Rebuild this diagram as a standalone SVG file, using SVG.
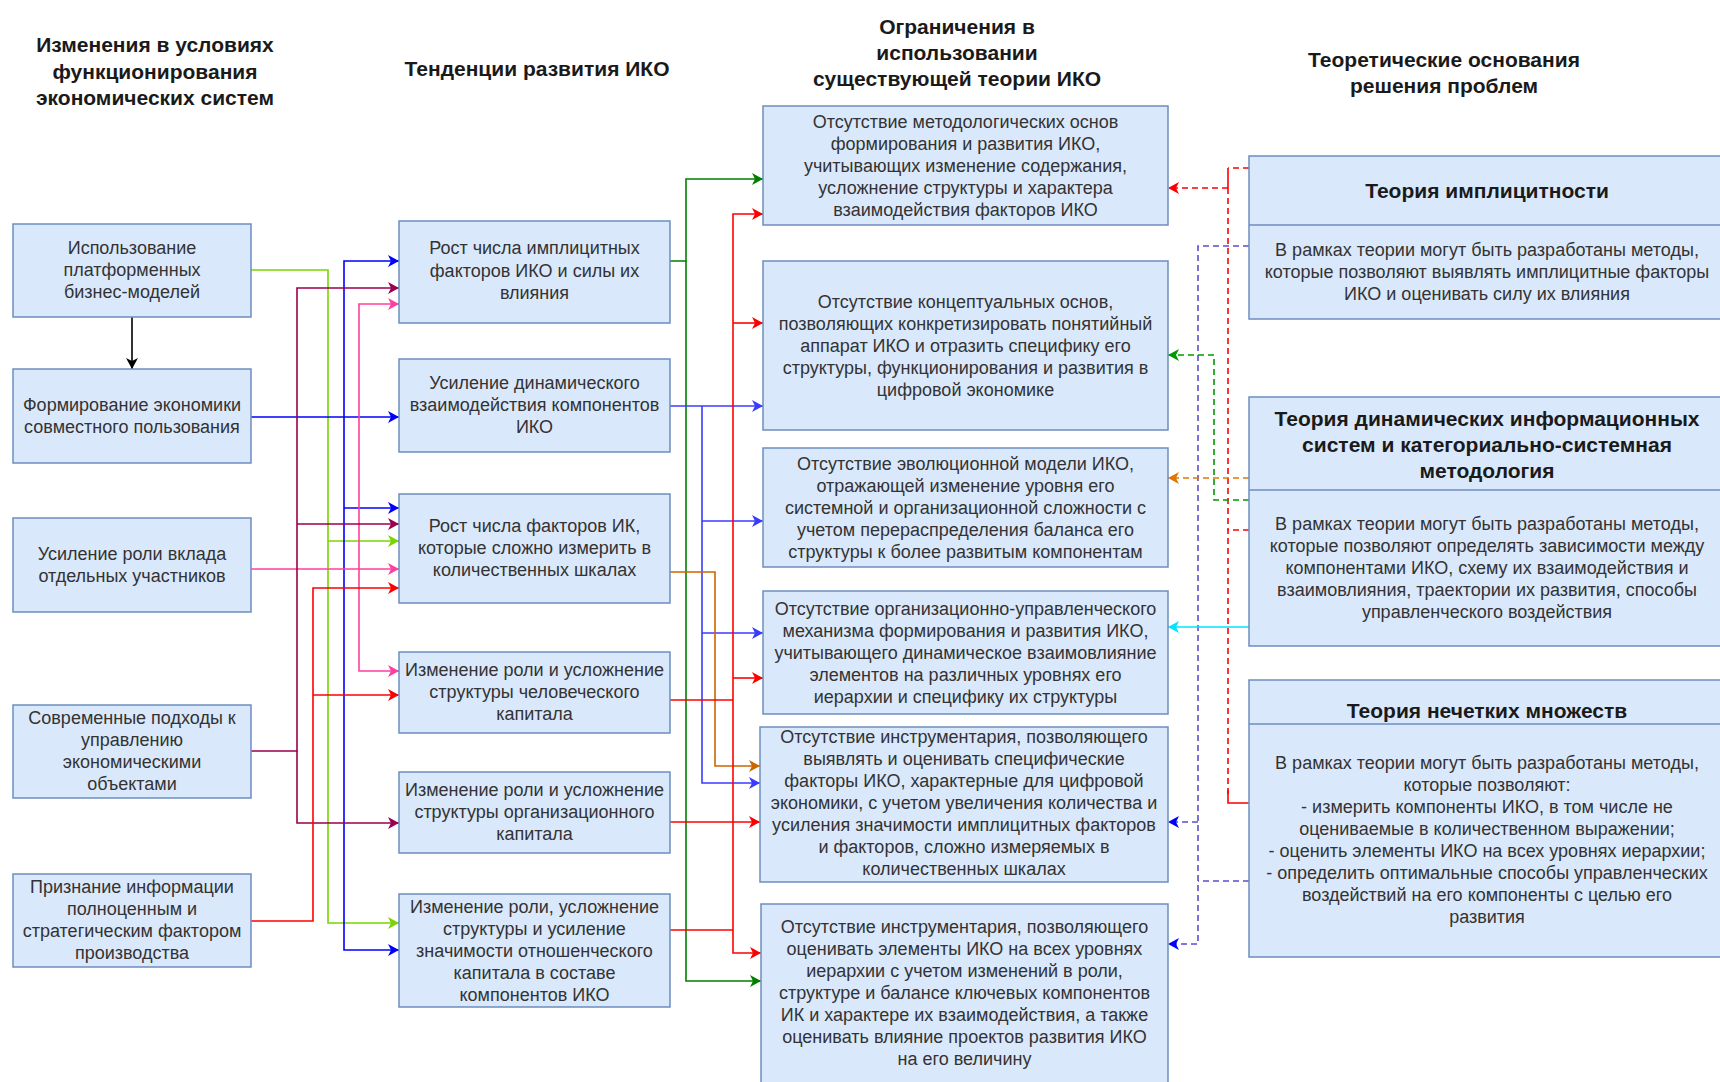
<svg xmlns="http://www.w3.org/2000/svg" width="1720" height="1082" viewBox="0 0 1720 1082">
  <style>
    .bg { fill: #ffffff; }
    .box { fill: #dae8fc; stroke: #6c8ebf; stroke-width: 1.5; }
    .div { stroke: #6c8ebf; stroke-width: 1.5; fill: none; }
    .t { font-family: "Liberation Sans", Arial, sans-serif; font-size: 18px; fill: #333333; text-anchor: middle; }
    .h { font-family: "Liberation Sans", Arial, sans-serif; font-size: 21px; font-weight: bold; fill: #1a1a1a; text-anchor: middle; }
    .c { fill: none; stroke-width: 1.6; }
    .dash { stroke-dasharray: 6 4; }
    .k { stroke: #000000; }
    .lg { stroke: #7ad400; }
    .bl { stroke: #0000ff; }
    .pu { stroke: #99004d; }
    .pk { stroke: #ff3f9f; }
    .rd { stroke: #ff0000; }
    .dg { stroke: #008000; }
    .b2 { stroke: #3b3bff; }
    .or { stroke: #cc6600; }
    .cy { stroke: #00e5ff; }
    .vd { stroke: #5a4fcf; }
    .gd { stroke: #009900; }
    .od { stroke: #e07800; }
  </style>
  <defs>
    <marker id="a-k" markerUnits="userSpaceOnUse" markerWidth="12" markerHeight="12" refX="11" refY="6" orient="auto"><path d="M0,0 L11,6 L0,12 L3,6 z" fill="#000000"/></marker>
    <marker id="a-lg" markerUnits="userSpaceOnUse" markerWidth="12" markerHeight="12" refX="11" refY="6" orient="auto"><path d="M0,0 L11,6 L0,12 L3,6 z" fill="#7ad400"/></marker>
    <marker id="a-bl" markerUnits="userSpaceOnUse" markerWidth="12" markerHeight="12" refX="11" refY="6" orient="auto"><path d="M0,0 L11,6 L0,12 L3,6 z" fill="#0000ff"/></marker>
    <marker id="a-pu" markerUnits="userSpaceOnUse" markerWidth="12" markerHeight="12" refX="11" refY="6" orient="auto"><path d="M0,0 L11,6 L0,12 L3,6 z" fill="#99004d"/></marker>
    <marker id="a-pk" markerUnits="userSpaceOnUse" markerWidth="12" markerHeight="12" refX="11" refY="6" orient="auto"><path d="M0,0 L11,6 L0,12 L3,6 z" fill="#ff3f9f"/></marker>
    <marker id="a-rd" markerUnits="userSpaceOnUse" markerWidth="12" markerHeight="12" refX="11" refY="6" orient="auto"><path d="M0,0 L11,6 L0,12 L3,6 z" fill="#ff0000"/></marker>
    <marker id="a-dg" markerUnits="userSpaceOnUse" markerWidth="12" markerHeight="12" refX="11" refY="6" orient="auto"><path d="M0,0 L11,6 L0,12 L3,6 z" fill="#008000"/></marker>
    <marker id="a-b2" markerUnits="userSpaceOnUse" markerWidth="12" markerHeight="12" refX="11" refY="6" orient="auto"><path d="M0,0 L11,6 L0,12 L3,6 z" fill="#3b3bff"/></marker>
    <marker id="a-or" markerUnits="userSpaceOnUse" markerWidth="12" markerHeight="12" refX="11" refY="6" orient="auto"><path d="M0,0 L11,6 L0,12 L3,6 z" fill="#cc6600"/></marker>
    <marker id="a-cy" markerUnits="userSpaceOnUse" markerWidth="12" markerHeight="12" refX="11" refY="6" orient="auto"><path d="M0,0 L11,6 L0,12 L3,6 z" fill="#00e5ff"/></marker>
    <marker id="a-gd" markerUnits="userSpaceOnUse" markerWidth="12" markerHeight="12" refX="11" refY="6" orient="auto"><path d="M0,0 L11,6 L0,12 L3,6 z" fill="#009900"/></marker>
    <marker id="a-od" markerUnits="userSpaceOnUse" markerWidth="12" markerHeight="12" refX="11" refY="6" orient="auto"><path d="M0,0 L11,6 L0,12 L3,6 z" fill="#e07800"/></marker>
  </defs>

  <rect class="bg" x="0" y="0" width="1720" height="1082"/>

  <!-- Column titles -->
  <g id="titles">
    <text class="h"><tspan x="155" y="52">Изменения в условиях</tspan><tspan x="155" y="79">функционирования</tspan><tspan x="155" y="105">экономических систем</tspan></text>
    <text class="h" x="537" y="76">Тенденции развития ИКО</text>
    <text class="h"><tspan x="957" y="34">Ограничения в</tspan><tspan x="957" y="60">использовании</tspan><tspan x="957" y="86">существующей теории ИКО</tspan></text>
    <text class="h"><tspan x="1444" y="67">Теоретические основания</tspan><tspan x="1444" y="93">решения проблем</tspan></text>
  </g>

  <!-- Connectors -->
  <g id="connectors">
    <!-- platform models -> sharing economy -->
    <path class="c k" d="M132,317 V369" marker-end="url(#a-k)"/>

    <!-- platform business models -->
    <path class="c lg" d="M251,270 H328 V923 H399" marker-end="url(#a-lg)"/>
    <path class="c lg" d="M328,541 H399" marker-end="url(#a-lg)"/>

    <!-- sharing economy -->
    <path class="c bl" d="M251,417 H399" marker-end="url(#a-bl)"/>
    <path class="c bl" d="M344,417 V261 H399" marker-end="url(#a-bl)"/>
    <path class="c bl" d="M344,417 V950 H399" marker-end="url(#a-bl)"/>
    <path class="c bl" d="M344,508 H399" marker-end="url(#a-bl)"/>

    <!-- contribution of individual participants -->
    <path class="c pk" d="M251,569 H399" marker-end="url(#a-pk)"/>
    <path class="c pk" d="M359,569 V304 H399" marker-end="url(#a-pk)"/>
    <path class="c pk" d="M359,569 V671 H399" marker-end="url(#a-pk)"/>

    <!-- modern management approaches -->
    <path class="c pu" d="M251,751 H297 V288 H399" marker-end="url(#a-pu)"/>
    <path class="c pu" d="M297,524 H399" marker-end="url(#a-pu)"/>
    <path class="c pu" d="M297,751 V823 H399" marker-end="url(#a-pu)"/>

    <!-- information as a production factor -->
    <path class="c rd" d="M251,921 H313 V588 H399" marker-end="url(#a-rd)"/>
    <path class="c rd" d="M313,695 H399" marker-end="url(#a-rd)"/>

    <!-- implicit factors growth -->
    <path class="c dg" d="M670,261 H686 V179 H763" marker-end="url(#a-dg)"/>
    <path class="c dg" d="M686,261 V981 H761" marker-end="url(#a-dg)"/>

    <!-- dynamic interaction of components -->
    <path class="c b2" d="M670,406 H763" marker-end="url(#a-b2)"/>
    <path class="c b2" d="M702,406 V783 H760" marker-end="url(#a-b2)"/>
    <path class="c b2" d="M702,521 H763" marker-end="url(#a-b2)"/>
    <path class="c b2" d="M702,633 H763" marker-end="url(#a-b2)"/>

    <!-- hard-to-measure factors -->
    <path class="c or" d="M670,572 H715 V766 H760" marker-end="url(#a-or)"/>

    <!-- human / organizational / relational capital -->
    <path class="c rd" d="M670,700 H733" stroke-width="3"/>
    <path class="c rd" d="M733,700 V214 H763" marker-end="url(#a-rd)"/>
    <path class="c rd" d="M733,323 H763" marker-end="url(#a-rd)"/>
    <path class="c rd" d="M733,678 H763" marker-end="url(#a-rd)"/>
    <path class="c rd" d="M733,700 V953 H761" marker-end="url(#a-rd)"/>
    <path class="c rd" d="M670,930 H733"/>
    <path class="c rd" d="M670,822 H760" marker-end="url(#a-rd)"/>

    <!-- theories -> limitations -->
    <path class="c rd dash" d="M1249,168 H1228"/>
    <path class="c rd" d="M1228,168 V188"/>
    <path class="c rd dash" d="M1228,188 H1168" marker-end="url(#a-rd)"/>
    <path class="c rd dash" d="M1228,188 V797"/>
    <path class="c rd dash" d="M1249,530 H1228"/>
    <path class="c rd" d="M1228,790 V803 H1252"/>

    <path class="c vd dash" d="M1249,246 H1198 V944 H1168" marker-end="url(#a-bl)"/>
    <path class="c vd dash" d="M1198,822 H1168" marker-end="url(#a-bl)"/>
    <path class="c vd dash" d="M1249,881 H1198"/>

    <path class="c gd dash" d="M1249,500 H1214 V355 H1168" marker-end="url(#a-gd)"/>
    <path class="c od dash" d="M1249,478 H1168" marker-end="url(#a-od)"/>
    <path class="c cy" d="M1249,627 H1168" marker-end="url(#a-cy)"/>
  </g>

  <!-- Changes in operating conditions -->
  <g id="cond-platform">
    <rect class="box" x="13" y="224" width="238" height="93"/>
    <text class="t"><tspan x="132" y="254">Использование</tspan><tspan x="132" y="276">платформенных</tspan><tspan x="132" y="298">бизнес-моделей</tspan></text>
  </g>
  <g id="cond-sharing">
    <rect class="box" x="13" y="369" width="238" height="94"/>
    <text class="t"><tspan x="132" y="411">Формирование экономики</tspan><tspan x="132" y="433">совместного пользования</tspan></text>
  </g>
  <g id="cond-participants">
    <rect class="box" x="13" y="518" width="238" height="94"/>
    <text class="t"><tspan x="132" y="560">Усиление роли вклада</tspan><tspan x="132" y="582">отдельных участников</tspan></text>
  </g>
  <g id="cond-management">
    <rect class="box" x="13" y="705" width="238" height="93"/>
    <text class="t"><tspan x="132" y="724">Современные подходы к</tspan><tspan x="132" y="746">управлению</tspan><tspan x="132" y="768">экономическими</tspan><tspan x="132" y="790">объектами</tspan></text>
  </g>
  <g id="cond-information">
    <rect class="box" x="13" y="874" width="238" height="93"/>
    <text class="t"><tspan x="132" y="893">Признание информации</tspan><tspan x="132" y="915">полноценным и</tspan><tspan x="132" y="937">стратегическим фактором</tspan><tspan x="132" y="959">производства</tspan></text>
  </g>

  <!-- Development trends -->
  <g id="trend-implicit">
    <rect class="box" x="399" y="221" width="271" height="102"/>
    <text class="t"><tspan x="534.5" y="254">Рост числа имплицитных</tspan><tspan x="534.5" y="277">факторов ИКО и силы их</tspan><tspan x="534.5" y="299">влияния</tspan></text>
  </g>
  <g id="trend-dynamic">
    <rect class="box" x="399" y="359" width="271" height="93"/>
    <text class="t"><tspan x="534.5" y="389">Усиление динамического</tspan><tspan x="534.5" y="411">взаимодействия компонентов</tspan><tspan x="534.5" y="433">ИКО</tspan></text>
  </g>
  <g id="trend-measure">
    <rect class="box" x="399" y="494" width="271" height="109"/>
    <text class="t"><tspan x="534.5" y="532">Рост числа факторов ИК,</tspan><tspan x="534.5" y="554">которые сложно измерить в</tspan><tspan x="534.5" y="576">количественных шкалах</tspan></text>
  </g>
  <g id="trend-human">
    <rect class="box" x="399" y="652" width="271" height="81"/>
    <text class="t"><tspan x="534.5" y="676">Изменение роли и усложнение</tspan><tspan x="534.5" y="698">структуры человеческого</tspan><tspan x="534.5" y="720">капитала</tspan></text>
  </g>
  <g id="trend-organizational">
    <rect class="box" x="399" y="772" width="271" height="81"/>
    <text class="t"><tspan x="534.5" y="796">Изменение роли и усложнение</tspan><tspan x="534.5" y="818">структуры организационного</tspan><tspan x="534.5" y="840">капитала</tspan></text>
  </g>
  <g id="trend-relational">
    <rect class="box" x="399" y="894" width="271" height="113"/>
    <text class="t"><tspan x="534.5" y="913">Изменение роли, усложнение</tspan><tspan x="534.5" y="935">структуры и усиление</tspan><tspan x="534.5" y="957">значимости отношенческого</tspan><tspan x="534.5" y="979">капитала в составе</tspan><tspan x="534.5" y="1001">компонентов ИКО</tspan></text>
  </g>

  <!-- Limitations of the existing theory -->
  <g id="limit-methodology">
    <rect class="box" x="763" y="106" width="405" height="119"/>
    <text class="t"><tspan x="965.5" y="128">Отсутствие методологических основ</tspan><tspan x="965.5" y="150">формирования и развития ИКО,</tspan><tspan x="965.5" y="172">учитывающих изменение содержания,</tspan><tspan x="965.5" y="194">усложнение структуры и характера</tspan><tspan x="965.5" y="216">взаимодействия факторов ИКО</tspan></text>
  </g>
  <g id="limit-concept">
    <rect class="box" x="763" y="261" width="405" height="169"/>
    <text class="t"><tspan x="965.5" y="308">Отсутствие концептуальных основ,</tspan><tspan x="965.5" y="330">позволяющих конкретизировать понятийный</tspan><tspan x="965.5" y="352">аппарат ИКО и отразить специфику его</tspan><tspan x="965.5" y="374">структуры, функционирования и развития в</tspan><tspan x="965.5" y="396">цифровой экономике</tspan></text>
  </g>
  <g id="limit-evolution">
    <rect class="box" x="763" y="448" width="405" height="119"/>
    <text class="t"><tspan x="965.5" y="470">Отсутствие эволюционной модели ИКО,</tspan><tspan x="965.5" y="492">отражающей изменение уровня его</tspan><tspan x="965.5" y="514">системной и организационной сложности с</tspan><tspan x="965.5" y="536">учетом перераспределения баланса его</tspan><tspan x="965.5" y="558">структуры к более развитым компонентам</tspan></text>
  </g>
  <g id="limit-mechanism">
    <rect class="box" x="763" y="591" width="405" height="123"/>
    <text class="t"><tspan x="965.5" y="615">Отсутствие организационно-управленческого</tspan><tspan x="965.5" y="637">механизма формирования и развития ИКО,</tspan><tspan x="965.5" y="659">учитывающего динамическое взаимовлияние</tspan><tspan x="965.5" y="681">элементов на различных уровнях его</tspan><tspan x="965.5" y="703">иерархии и специфику их структуры</tspan></text>
  </g>
  <g id="limit-identify">
    <rect class="box" x="760" y="727" width="408" height="155"/>
    <text class="t"><tspan x="964" y="743">Отсутствие инструментария, позволяющего</tspan><tspan x="964" y="765">выявлять и оценивать специфические</tspan><tspan x="964" y="787">факторы ИКО, характерные для цифровой</tspan><tspan x="964" y="809">экономики, с учетом увеличения количества и</tspan><tspan x="964" y="831">усиления значимости имплицитных факторов</tspan><tspan x="964" y="853">и факторов, сложно измеряемых в</tspan><tspan x="964" y="875">количественных шкалах</tspan></text>
  </g>
  <g id="limit-evaluate">
    <rect class="box" x="761" y="904" width="407" height="190"/>
    <text class="t"><tspan x="964.5" y="933">Отсутствие инструментария, позволяющего</tspan><tspan x="964.5" y="955">оценивать элементы ИКО на всех уровнях</tspan><tspan x="964.5" y="977">иерархии с учетом изменений в роли,</tspan><tspan x="964.5" y="999">структуре и балансе ключевых компонентов</tspan><tspan x="964.5" y="1021">ИК и характере их взаимодействия, а также</tspan><tspan x="964.5" y="1043">оценивать влияние проектов развития ИКО</tspan><tspan x="964.5" y="1065">на его величину</tspan></text>
  </g>

  <!-- Theoretical foundations -->
  <g id="theory-implicitness">
    <rect class="box" x="1249" y="156" width="476" height="163"/>
    <path class="div" d="M1249,225 H1725"/>
    <text class="h" x="1487" y="198">Теория имплицитности</text>
    <text class="t"><tspan x="1487" y="256">В рамках теории могут быть разработаны методы,</tspan><tspan x="1487" y="278">которые позволяют выявлять имплицитные факторы</tspan><tspan x="1487" y="300">ИКО и оценивать силу их влияния</tspan></text>
  </g>
  <g id="theory-dynamic">
    <rect class="box" x="1249" y="397" width="476" height="249"/>
    <path class="div" d="M1249,490 H1725"/>
    <text class="h"><tspan x="1487" y="426">Теория динамических информационных</tspan><tspan x="1487" y="452">систем и категориально-системная</tspan><tspan x="1487" y="478">методология</tspan></text>
    <text class="t"><tspan x="1487" y="530">В рамках теории могут быть разработаны методы,</tspan><tspan x="1487" y="552">которые позволяют определять зависимости между</tspan><tspan x="1487" y="574">компонентами ИКО, схему их взаимодействия и</tspan><tspan x="1487" y="596">взаимовлияния, траектории их развития, способы</tspan><tspan x="1487" y="618">управленческого воздействия</tspan></text>
  </g>
  <g id="theory-fuzzy">
    <rect class="box" x="1249" y="680" width="476" height="277"/>
    <path class="div" d="M1249,724 H1725"/>
    <text class="h" x="1487" y="718">Теория нечетких множеств</text>
    <text class="t"><tspan x="1487" y="769">В рамках теории могут быть разработаны методы,</tspan><tspan x="1487" y="791">которые позволяют:</tspan><tspan x="1487" y="813">- измерить компоненты ИКО, в том числе не</tspan><tspan x="1487" y="835">оцениваемые в количественном выражении;</tspan><tspan x="1487" y="857">- оценить элементы ИКО на всех уровнях иерархии;</tspan><tspan x="1487" y="879">- определить оптимальные способы управленческих</tspan><tspan x="1487" y="901">воздействий на его компоненты с целью его</tspan><tspan x="1487" y="923">развития</tspan></text>
  </g>
</svg>
